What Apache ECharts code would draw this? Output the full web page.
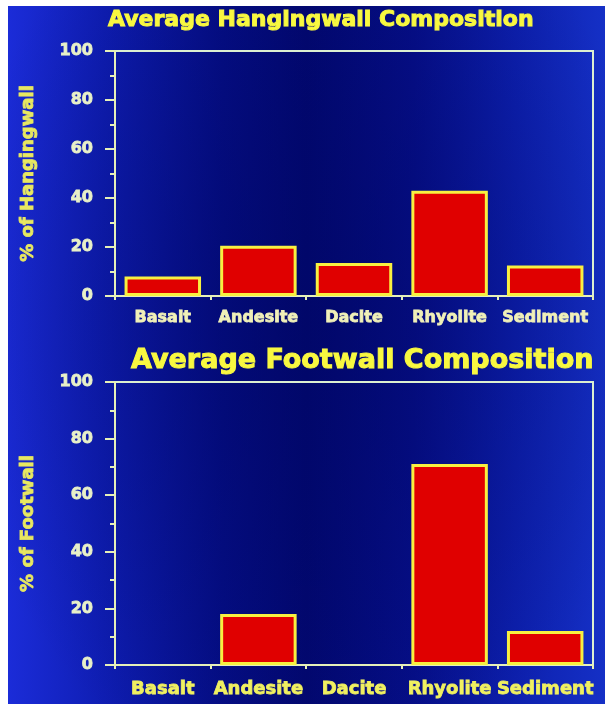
<!DOCTYPE html>
<html>
<head>
<meta charset="utf-8">
<script src="https://cdn.jsdelivr.net/npm/echarts@6/dist/echarts.min.js"></script>
<style>
html,body{margin:0;padding:0;background:#ffffff;width:605px;height:704px;overflow:hidden;}
#chart{position:absolute;left:8px;top:6px;width:597px;height:698px;
background:
 radial-gradient(ellipse 60% 70% at 50% 45%, rgba(0,6,100,0.55) 0%, rgba(0,6,100,0) 100%),
 linear-gradient(90deg,#1b2cd8 0%,#0f1eb4 16%,#050e86 36%,#020870 50%,#060f8a 68%,#0d20ae 85%,#1530c6 100%);}
</style>
</head>
<body>
<div id="chart"></div>
<script>
const categories = ['Basalt','Andesite','Dacite','Rhyolite','Sediment'];
const hangingwall = [8, 20.5, 13.5, 43, 12.5];
const footwall = [0, 18, 0, 71, 12];
const yTicks = [0, 20, 40, 60, 80, 100];
const titleTop = 'Average Hangingwall Composition';
const titleBottom = 'Average Footwall Composition';
const yNameTop = '% of Hangingwall';
const yNameBottom = '% of Footwall';

const FONT = 'DejaVu Sans';
const axisColor = '#e6f0b8';
const chart = echarts.init(document.getElementById('chart'));

function yAxis(gridIndex, name, nameColor, nameSize) {
  return {
    type: 'value', gridIndex, min: yTicks[0], max: yTicks[yTicks.length-1], interval: 20,
    name, nameLocation: 'middle', nameGap: 78, nameRotate: 90,
    nameTextStyle: {color: nameColor, fontFamily: FONT, fontWeight: 'bold', fontSize: nameSize,
      textBorderColor: nameColor, textBorderWidth: 0.8},
    axisLine: {show: true, lineStyle: {color: axisColor, width: 2}},
    axisTick: {show: true, length: 10, lineStyle: {color: axisColor, width: 2}},
    minorTick: {show: true, splitNumber: 2, length: 5, lineStyle: {color: axisColor, width: 2}},
    splitLine: {show: false},
    axisLabel: {color: '#e8f0c8', fontFamily: FONT, fontWeight: 'bold', fontSize: 16, margin: 22,
      textBorderColor: '#e8f0c8', textBorderWidth: 0.8}
  };
}
function xAxis(gridIndex, color, size, margin) {
  return {
    type: 'category', gridIndex, data: categories,
    axisLine: {show: true, lineStyle: {color: axisColor, width: 2}},
    axisTick: {show: true, length: 4, lineStyle: {color: axisColor, width: 2}},
    axisLabel: {color, fontFamily: FONT, fontWeight: 'bold', fontSize: size, margin, interval: 0,
      textBorderColor: color, textBorderWidth: 0.8}
  };
}
const barStyle = {color: '#e00000', borderColor: '#f8f040', borderWidth: 3};
function barData(values) {
  return values.map(v => v === 0 ? {value: v, itemStyle: {borderWidth: 0}} : v);
}

chart.setOption({
  animation: false,
  backgroundColor: 'transparent',
  title: [
    {text: titleTop, left: 100, top: 3, padding: 0,
     textStyle: {color: '#f8f840', fontFamily: FONT, fontWeight: 'bold', fontSize: 22,
       textBorderColor: '#f8f840', textBorderWidth: 1}},
    {text: titleBottom, left: 123, top: 341, padding: 0,
     textStyle: {color: '#f8f840', fontFamily: FONT, fontWeight: 'bold', fontSize: 27,
       textBorderColor: '#f8f840', textBorderWidth: 1}}
  ],
  grid: [
    {left: 107, top: 45, width: 478, height: 245, show: true, borderColor: '#dcefd0', borderWidth: 2},
    {left: 107, top: 376, width: 478, height: 283, show: true, borderColor: '#dcefd0', borderWidth: 2}
  ],
  xAxis: [xAxis(0, '#f0f0b8', 16, 14), xAxis(1, '#f0f060', 18, 15)],
  yAxis: [yAxis(0, yNameTop, '#e8e860', 18), yAxis(1, yNameBottom, '#e8e860', 18)],
  series: [
    {type: 'bar', xAxisIndex: 0, yAxisIndex: 0, data: barData(hangingwall), barWidth: '80%', itemStyle: barStyle},
    {type: 'bar', xAxisIndex: 1, yAxisIndex: 1, data: barData(footwall), barWidth: '80%', itemStyle: barStyle}
  ]
});
</script>
</body>
</html>
